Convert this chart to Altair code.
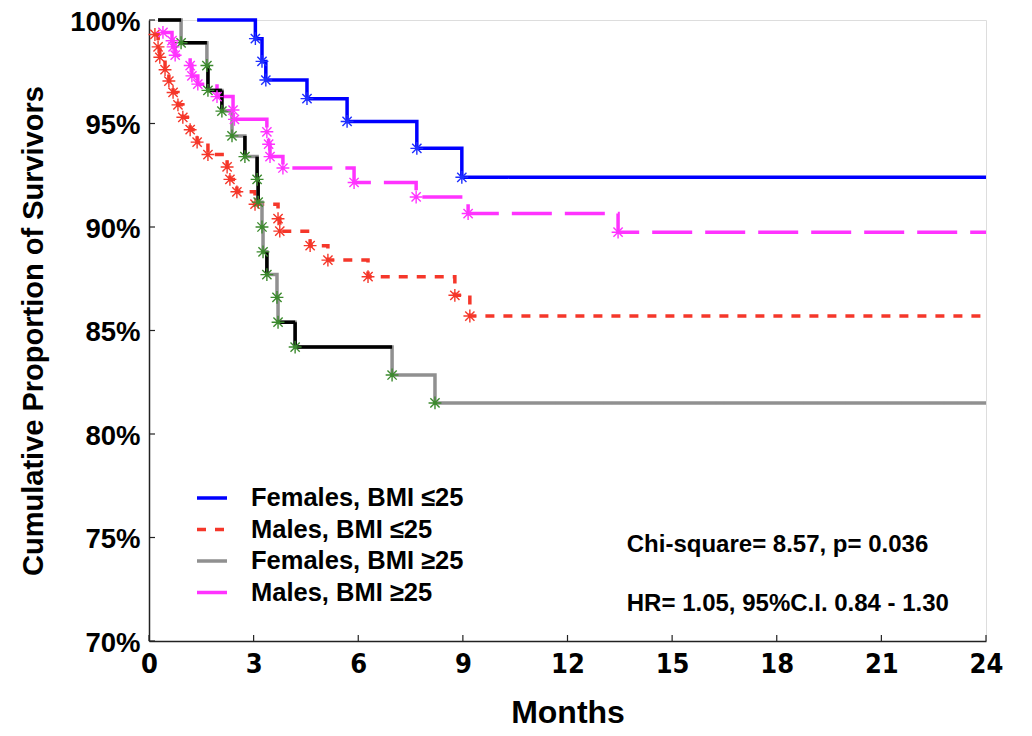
import altair as alt
import pandas as pd

series_names = ["Females, BMI ≤25", "Males, BMI ≤25", "Females, BMI ≥25", "Males, BMI ≥25"]
line_colors = ["#0000ff", "#f5372a", "#909090", "#ff33ff"]
marker_colors = ["#1f2fff", "#f5372a", "#3c8a2e", "#ff33ff"]

# --- Females, BMI <=25 (start point, then events) ---
f_lo_start = [1.38, 100.0]
f_lo_t = [3.05, 3.24, 3.35, 4.53, 5.68, 7.68, 8.97]
f_lo_s = [99.1, 98.0, 97.1, 96.2, 95.1, 93.8, 92.4]

# --- Males, BMI <=25 ---
m_lo_start = None
m_lo_t = [0.17, 0.26, 0.31, 0.46, 0.57, 0.69, 0.83, 0.97, 1.18, 1.38, 1.69,
          2.24, 2.32, 2.52, 3.04, 3.70, 3.75, 4.62, 5.13, 6.28, 8.77, 9.20]
m_lo_s = [99.3, 98.7, 98.2, 97.6, 97.05, 96.5, 95.9, 95.3, 94.7, 94.1, 93.5,
          92.9, 92.3, 91.7, 91.1, 90.4, 89.8, 89.1, 88.4, 87.6, 86.7, 85.7]

# --- Females, BMI >=25 ---
f_hi_start = [0.26, 100.0]
f_hi_t = [0.92, 1.66, 1.69, 2.09, 2.38, 2.75, 3.10, 3.13, 3.24, 3.27, 3.38,
          3.67, 3.70, 4.19, 6.97, 8.20]
f_hi_s = [98.9, 97.8, 96.6, 95.6, 94.4, 93.4, 92.3, 91.2, 90.0, 88.8, 87.7,
          86.6, 85.4, 84.2, 82.85, 81.5]
# intervals of this curve that are drawn heavy/black in the original
f_hi_bold_h = [1, 1, 0, 1, 0, 0, 0, 0, 0, 0, 0, 0, 0, 1, 1, 0, 0]
f_hi_bold_v = [0, 0, 1, 1, 0, 1, 1, 1, 0, 0, 1, 0, 0, 1, 0, 0]

# --- Males, BMI >=25 ---
m_hi_start = None
m_hi_t = [0.40, 0.66, 0.69, 0.75, 1.18, 1.23, 1.40, 1.95, 2.41, 2.45, 3.38,
          3.43, 3.47, 3.84, 5.88, 7.66, 9.15, 13.45]
m_hi_s = [99.4, 99.0, 98.7, 98.3, 97.8, 97.3, 96.9, 96.3, 95.65, 95.2, 94.6,
          94.0, 93.4, 92.85, 92.15, 91.45, 90.65, 89.75]

end_month = 24
x_ticks = [0, 3, 6, 9, 12, 15, 18, 21, 24]
y_ticks = [70, 75, 80, 85, 90, 95, 100]

anno_text = ["Chi-square= 8.57, p= 0.036", "HR= 1.05, 95%C.I. 0.84 - 1.30"]
anno_x = [13.7, 13.7]
anno_y = [74.64, 71.79]

curves = [
    (series_names[0], f_lo_start, f_lo_t, f_lo_s),
    (series_names[1], m_lo_start, m_lo_t, m_lo_s),
    (series_names[2], f_hi_start, f_hi_t, f_hi_s),
    (series_names[3], m_hi_start, m_hi_t, m_hi_s),
]

line_rows, marker_rows = [], []
for k, (name, start, ts, ss) in enumerate(curves):
    pts = []
    if start is not None:
        pts.append((start[0], start[1]))
    pts += list(zip(ts, ss))
    pts.append((end_month, ss[-1]))
    for i, (t, s) in enumerate(pts):
        line_rows.append({"series": name, "t": t, "s": s, "order": i})
    for t, s in zip(ts, ss):
        marker_rows.append({"series": name, "t": t, "s": s, "mcolor": marker_colors[k]})

lines_df = pd.DataFrame(line_rows)
markers_df = pd.DataFrame(marker_rows)

# heavy segments of the Females BMI>=25 curve
fh_pts = [tuple(f_hi_start)] + list(zip(f_hi_t, f_hi_s)) + [(end_month, f_hi_s[-1])]
seg_rows = []
for i in range(len(fh_pts) - 1):
    t0, s0 = fh_pts[i]
    t1, s1 = fh_pts[i + 1]
    if f_hi_bold_h[i]:
        seg_rows.append({"x": t0, "x2": t1, "y": s0, "y2": s0})
    if i < len(f_hi_bold_v) and f_hi_bold_v[i]:
        seg_rows.append({"x": t1, "x2": t1, "y": s0, "y2": s1})
seg_df = pd.DataFrame(seg_rows)

anno_df = pd.DataFrame({"text": anno_text, "x": anno_x, "y": anno_y})
xt_df = pd.DataFrame({"v": x_ticks})
yt_df = pd.DataFrame({"v": y_ticks})

W, H = 837, 621
FONT = "Liberation Sans, Arial, sans-serif"
NARROW = "Liberation Sans Narrow, Arial Narrow, DejaVu Sans Condensed, sans-serif"

xscale = alt.Scale(domain=[0, 24], nice=False, zero=False)
yscale = alt.Scale(domain=[70, 100], nice=False, zero=False)

leg = alt.Legend(
    orient="none", legendX=46, legendY=461, title=None, padding=0,
    symbolType="stroke", symbolSize=900, labelFontSize=25.5, labelFont=FONT,
    labelFontWeight="bold", labelColor="black", rowPadding=0.5, labelOffset=22,
    labelLimit=400,
)

xaxis = alt.Axis(
    values=x_ticks, title="Months", titleFontSize=32, titleFont=FONT,
    titleFontWeight="bold", titleColor="black", titleX=W / 2, titleY=81,
    titleBaseline="alphabetic", labelFont=NARROW, labelFontWeight="bold",
    labelFontSize=27, labelColor="black", labelPadding=10, ticks=False,
    grid=False, domainColor="#222", domainWidth=1.5, labelFlush=False,
)
yaxis = alt.Axis(
    values=y_ticks, title="Cumulative Proportion of Survivors", titleFontSize=29,
    titleFont=FONT, titleFontWeight="bold", titleColor="black", titleX=-116,
    titleY=H / 2, titleAlign="center", titleBaseline="middle",
    labelExpr="datum.value + '%'", labelFont=FONT, labelFontWeight="bold",
    labelFontSize=27.5, labelColor="black", labelPadding=9, ticks=False,
    labelBaseline="alphabetic", labelOffset=10,
    grid=False, domainColor="#222", domainWidth=1.5, labelFlush=False,
)

lines = alt.Chart(lines_df).mark_line(interpolate="step-after").encode(
    x=alt.X("t:Q", scale=xscale, axis=xaxis),
    y=alt.Y("s:Q", scale=yscale, axis=yaxis),
    order="order:Q",
    color=alt.Color("series:N", scale=alt.Scale(domain=series_names, range=line_colors),
                    sort=series_names, legend=leg),
    strokeDash=alt.StrokeDash("series:N", scale=alt.Scale(
        domain=series_names, range=[[1, 0], [9, 9], [1, 0], [40, 13]]),
        sort=series_names, legend=leg),
    strokeWidth=alt.StrokeWidth("series:N", scale=alt.Scale(
        domain=series_names, range=[3.5, 3.5, 1.2, 3.5]),
        sort=series_names, legend=leg),
)

bold = alt.Chart(seg_df).mark_rule(color="black", strokeWidth=3.5).encode(
    x=alt.X("x:Q", scale=xscale), x2="x2:Q",
    y=alt.Y("y:Q", scale=yscale), y2="y2:Q",
)

asterisk = "M-1,0L1,0M0,-1L0,1M-0.72,-0.72L0.72,0.72M-0.72,0.72L0.72,-0.72"
markers = alt.Chart(markers_df).mark_point(
    shape=asterisk, filled=False, size=165, strokeWidth=1.4, opacity=1
).encode(
    x=alt.X("t:Q", scale=xscale),
    y=alt.Y("s:Q", scale=yscale),
    stroke=alt.Stroke("mcolor:N", scale=None, legend=None),
)

annos = alt.Chart(anno_df).mark_text(
    align="left", baseline="middle", font=FONT, fontWeight="bold",
    fontSize=24, color="black"
).encode(
    x=alt.X("x:Q", scale=xscale), y=alt.Y("y:Q", scale=yscale), text="text:N"
)

xt = alt.Chart(xt_df).mark_rule(color="#222", strokeWidth=1.2).encode(
    x=alt.X("v:Q", scale=xscale), y=alt.value(H), y2=alt.value(H - 6)
)
yt = alt.Chart(yt_df).mark_rule(color="#222", strokeWidth=1.2).encode(
    y=alt.Y("v:Q", scale=yscale), x=alt.value(0), x2=alt.value(6)
)

chart = alt.layer(lines, bold, markers, annos, xt, yt).properties(
    width=W, height=H,
    autosize=alt.AutoSizeParams(type="none"),
    padding={"left": 141, "top": 12, "right": 38, "bottom": 87},
).configure_view(stroke=None).configure(background="white")

chart.save("out.html", embed_options={"renderer": "svg", "actions": False})
